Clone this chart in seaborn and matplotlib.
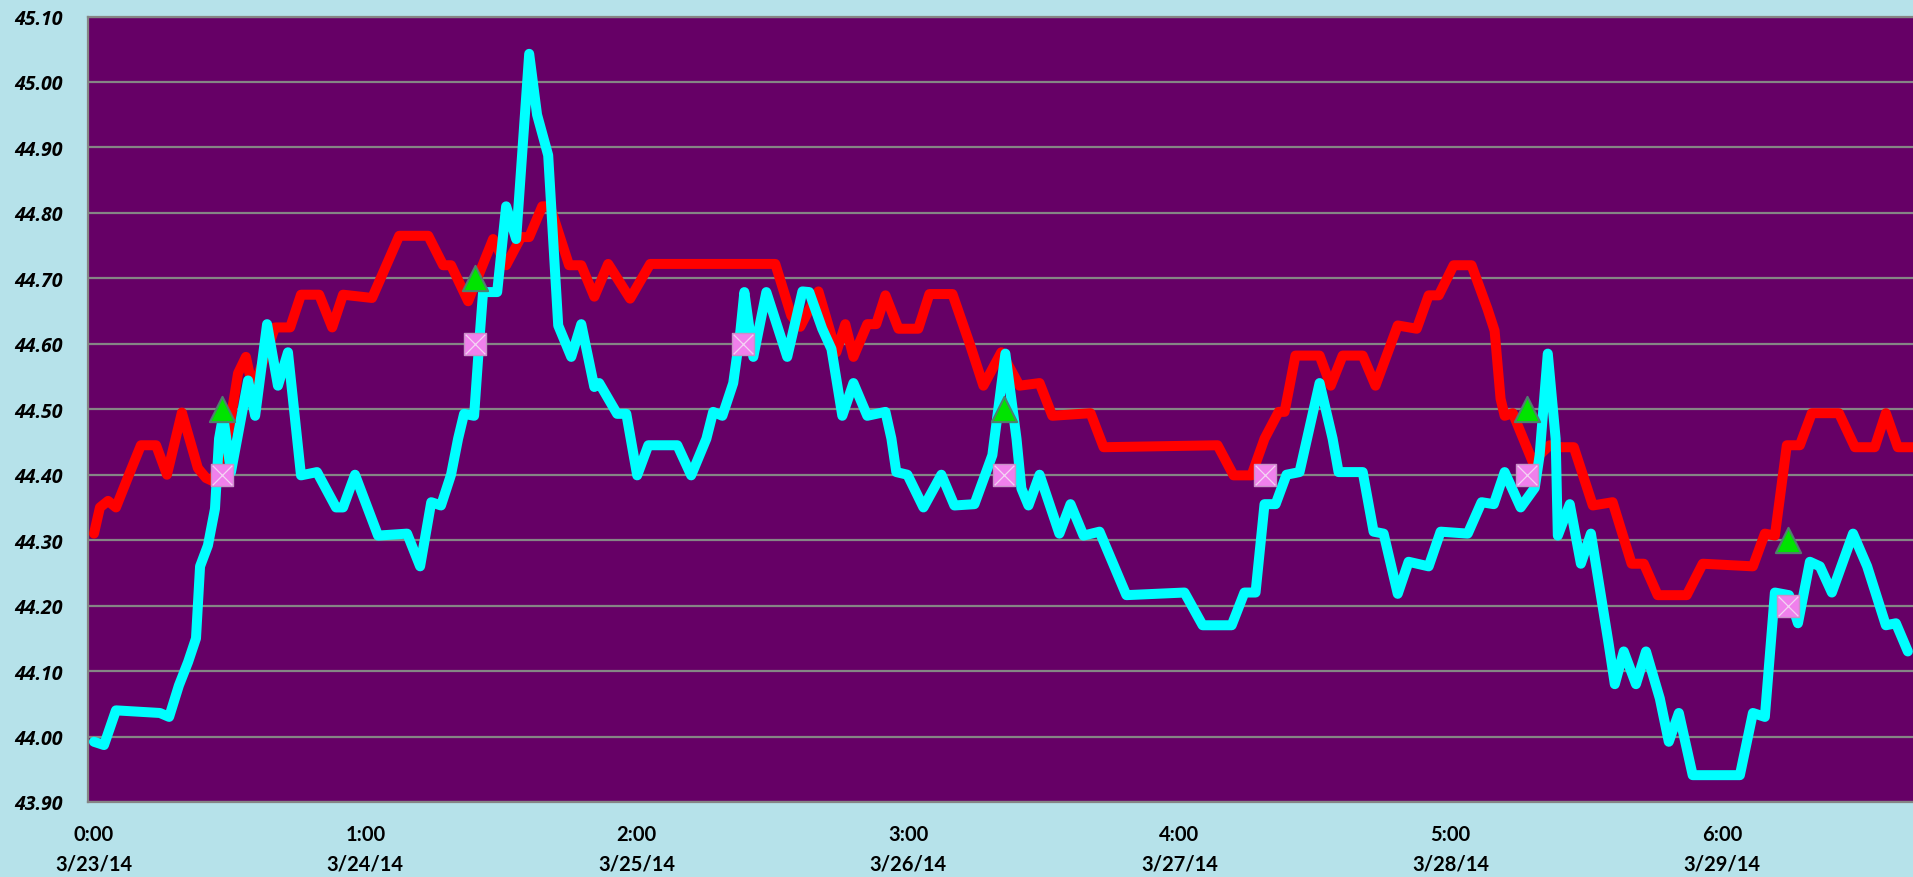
import numpy as np
import pandas as pd
import matplotlib
matplotlib.use("Agg")
import matplotlib.pyplot as plt
import seaborn as sns

# x in "tick units": 0 -> "0:00 3/23/14", 1 -> "1:00 3/24/14", ...
red_x = [0.000, 0.022, 0.052, 0.081, 0.129, 0.173, 0.229, 0.269, 0.324, 0.383,
         0.413, 0.439, 0.498, 0.531, 0.560, 0.586, 0.638, 0.667, 0.723, 0.763,
         0.830, 0.878, 0.918, 1.025, 1.125, 1.232, 1.287, 1.316, 1.379, 1.471,
         1.519, 1.574, 1.604, 1.652, 1.681, 1.751, 1.796, 1.844, 1.895, 1.976,
         2.050, 2.511, 2.570, 2.603, 2.670, 2.736, 2.769, 2.799, 2.850, 2.883,
         2.917, 2.965, 3.038, 3.079, 3.164, 3.230, 3.278, 3.344, 3.411, 3.485,
         3.532, 3.673, 3.721, 4.141, 4.200, 4.266, 4.314, 4.366, 4.388, 4.428,
         4.517, 4.558, 4.602, 4.676, 4.723, 4.805, 4.875, 4.919, 4.956, 5.011,
         5.077, 5.136, 5.162, 5.184, 5.199, 5.229, 5.302, 5.365, 5.409, 5.454,
         5.524, 5.597, 5.667, 5.712, 5.763, 5.870, 5.929, 6.114, 6.158, 6.195,
         6.239, 6.287, 6.331, 6.431, 6.490, 6.563, 6.604, 6.648, 6.704]
red_y = [44.31, 44.35, 44.36, 44.35, 44.40, 44.445, 44.445, 44.40, 44.495, 44.41,
         44.395, 44.39, 44.47, 44.555, 44.58, 44.53, 44.59, 44.625, 44.625, 44.675,
         44.675, 44.625, 44.675, 44.67, 44.765, 44.765, 44.72, 44.72, 44.665, 44.76,
         44.72, 44.763, 44.763, 44.81, 44.81, 44.72, 44.72, 44.672, 44.722, 44.669,
         44.722, 44.722, 44.643, 44.626, 44.68, 44.587, 44.63, 44.58, 44.63, 44.63,
         44.674, 44.623, 44.623, 44.676, 44.676, 44.597, 44.536, 44.587, 44.536, 44.54,
         44.49, 44.494, 44.442, 44.445, 44.399, 44.399, 44.455, 44.496, 44.496, 44.582,
         44.582, 44.536, 44.582, 44.582, 44.536, 44.628, 44.623, 44.674, 44.674, 44.72,
         44.72, 44.653, 44.62, 44.516, 44.49, 44.494, 44.42, 44.445, 44.442, 44.442,
         44.353, 44.358, 44.264, 44.264, 44.216, 44.216, 44.264, 44.26, 44.31, 44.307,
         44.445, 44.445, 44.494, 44.494, 44.442, 44.442, 44.494, 44.442, 44.442]

cyan_x = [0.000, 0.037, 0.081, 0.243, 0.277, 0.313, 0.347, 0.376, 0.391, 0.420,
          0.446, 0.461, 0.476, 0.505, 0.568, 0.594, 0.638, 0.678, 0.715, 0.763,
          0.822, 0.892, 0.918, 0.962, 1.047, 1.154, 1.202, 1.243, 1.279, 1.316,
          1.342, 1.364, 1.401, 1.420, 1.434, 1.486, 1.519, 1.556, 1.604, 1.633,
          1.674, 1.711, 1.759, 1.796, 1.844, 1.862, 1.928, 1.962, 2.002, 2.043,
          2.150, 2.201, 2.257, 2.282, 2.316, 2.356, 2.382, 2.397, 2.430, 2.478,
          2.555, 2.611, 2.636, 2.684, 2.718, 2.758, 2.799, 2.850, 2.917, 2.939,
          2.957, 2.998, 3.057, 3.123, 3.171, 3.245, 3.311, 3.359, 3.400, 3.418,
          3.444, 3.485, 3.558, 3.599, 3.647, 3.706, 3.805, 4.019, 4.086, 4.193,
          4.240, 4.281, 4.314, 4.355, 4.395, 4.443, 4.517, 4.565, 4.587, 4.676,
          4.716, 4.753, 4.805, 4.845, 4.919, 4.963, 5.063, 5.114, 5.159, 5.199,
          5.258, 5.310, 5.328, 5.358, 5.387, 5.395, 5.439, 5.480, 5.517, 5.583,
          5.605, 5.638, 5.683, 5.720, 5.771, 5.804, 5.841, 5.892, 6.066, 6.114,
          6.158, 6.195, 6.247, 6.280, 6.324, 6.361, 6.405, 6.483, 6.535, 6.604,
          6.641, 6.685]
cyan_y = [43.992, 43.987, 44.04, 44.036, 44.03, 44.078, 44.114, 44.15, 44.26, 44.292,
          44.348, 44.455, 44.49, 44.404, 44.544, 44.49, 44.63, 44.536, 44.587, 44.399,
          44.404, 44.35, 44.35, 44.40, 44.307, 44.31, 44.26, 44.358, 44.353, 44.40,
          44.455, 44.493, 44.49, 44.603, 44.679, 44.679, 44.81, 44.76, 45.043, 44.95,
          44.888, 44.628, 44.58, 44.63, 44.534, 44.54, 44.493, 44.493, 44.399, 44.445,
          44.445, 44.399, 44.455, 44.496, 44.49, 44.54, 44.618, 44.679, 44.58, 44.679,
          44.58, 44.68, 44.679, 44.623, 44.592, 44.49, 44.54, 44.49, 44.496, 44.455,
          44.404, 44.40, 44.35, 44.40, 44.353, 44.355, 44.43, 44.585, 44.455, 44.379,
          44.353, 44.40, 44.31, 44.355, 44.307, 44.313, 44.216, 44.22, 44.17, 44.17,
          44.22, 44.22, 44.355, 44.355, 44.40, 44.404, 44.54, 44.455, 44.404, 44.404,
          44.313, 44.31, 44.218, 44.267, 44.26, 44.313, 44.31, 44.358, 44.355, 44.404,
          44.35, 44.38, 44.43, 44.585, 44.455, 44.307, 44.355, 44.264, 44.31, 44.14,
          44.08, 44.13, 44.08, 44.13, 44.058, 43.992, 44.036, 43.941, 43.941, 44.036,
          44.03, 44.22, 44.216, 44.173, 44.267, 44.26, 44.22, 44.31, 44.26, 44.17,
          44.173, 44.13]

marker_x = [0.472, 1.404, 2.393, 3.355, 4.314, 5.28, 6.245]
tri_x = [0.472, 1.404, 3.355, 5.28, 6.245]
tri_y = [44.50, 44.70, 44.50, 44.50, 44.30]
sq_y = [44.40, 44.60, 44.60, 44.40, 44.40, 44.40, 44.20]

tick_labels = ["0:00\n3/23/14", "1:00\n3/24/14", "2:00\n3/25/14", "3:00\n3/26/14",
               "4:00\n3/27/14", "5:00\n3/28/14", "6:00\n3/29/14"]

outer_bg = "#b6e2ea"
plot_bg = "#660066"
grid_c = "#858585"

sns.set_style("white")
plt.rcParams["font.family"] = ["Lato", "DejaVu Sans"]

fig = plt.figure(figsize=(19.13, 8.78), dpi=100, facecolor=outer_bg)
ax = fig.add_axes([88 / 1913, 75 / 878, 1 - 88 / 1913, 785.5 / 878])
ax.set_facecolor(plot_bg)

lines = pd.concat([
    pd.DataFrame({"x": red_x, "y": red_y, "s": "red"}),
    pd.DataFrame({"x": cyan_x, "y": cyan_y, "s": "cyan"}),
])
sns.lineplot(data=lines, x="x", y="y", hue="s", hue_order=["red", "cyan"],
             palette={"red": "#ff0000", "cyan": "#00ffff"}, sort=False,
             estimator=None, linewidth=7.2, legend=False, ax=ax,
             solid_joinstyle="round", solid_capstyle="round", zorder=3)

sq = pd.DataFrame({"x": marker_x, "y": sq_y})
tri = pd.DataFrame({"x": tri_x, "y": tri_y})
sns.scatterplot(data=sq, x="x", y="y", marker="s", s=270, color="#f080ec",
                edgecolor="#c890c8", linewidth=1.0, ax=ax, zorder=5, legend=False)
sns.scatterplot(data=sq, x="x", y="y", marker="x", s=200, color="#f4d4f4",
                linewidth=0.9, ax=ax, zorder=6, legend=False)
sns.scatterplot(data=tri, x="x", y="y", marker="^", s=330, color="#00e400",
                edgecolor="#4f7f70", linewidth=1.5, ax=ax, zorder=5, legend=False)

ax.set_xlim(-0.022, 6.704)
ax.set_ylim(43.90, 45.10)
ax.set_yticks(np.round(np.arange(43.90, 45.101, 0.1), 2))
ax.set_yticklabels([f"{v:.2f}" for v in np.arange(43.90, 45.101, 0.1)],
                   fontsize=14, fontweight="bold", fontstyle="italic",
                   family=["Open Sans", "DejaVu Sans"])
ax.set_xticks(range(len(tick_labels)))
ax.set_xticklabels(tick_labels, fontsize=14.5, fontweight="bold", linespacing=1.6)
ax.tick_params(axis="y", length=0, pad=18, colors="#000000")
ax.tick_params(axis="x", length=0, pad=16, colors="#000000")
ax.grid(axis="y", color=grid_c, linewidth=1.6, zorder=1)
ax.grid(axis="x", visible=False)
ax.set_axisbelow(True)
ax.set_xlabel("")
ax.set_ylabel("")
for side in ["left", "bottom", "top"]:
    ax.spines[side].set_color(grid_c)
    ax.spines[side].set_linewidth(1.6)
ax.spines["right"].set_visible(False)

fig.savefig("out.png", dpi=100, facecolor=outer_bg)
